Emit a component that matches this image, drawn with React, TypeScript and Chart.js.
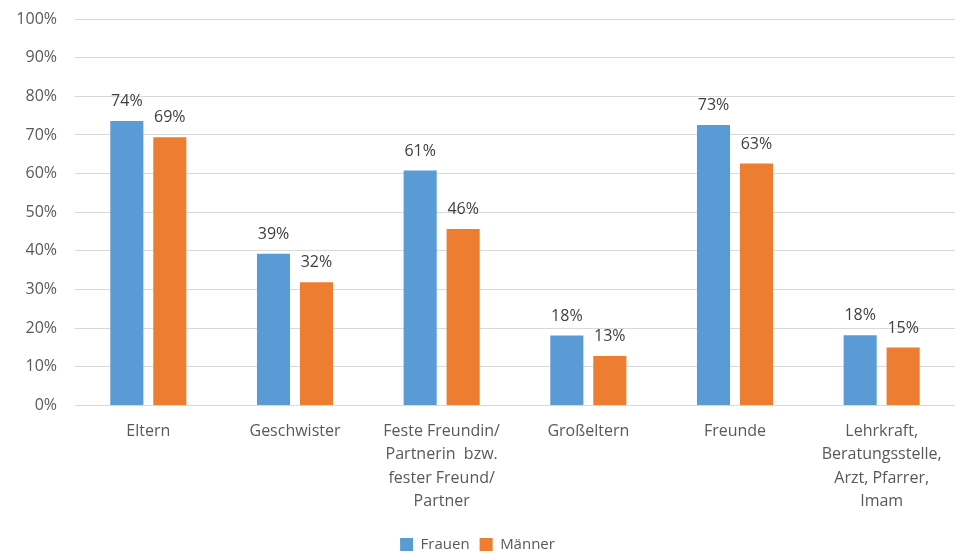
import React, { useEffect, useRef } from "react";
import { Chart, registerables } from "chart.js";

Chart.register(...registerables);

const categories: (string | string[])[] = [
  "Eltern",
  "Geschwister",
  ["Feste Freundin/", "Partnerin  bzw.", "fester Freund/", "Partner"],
  "Großeltern",
  "Freunde",
  ["Lehrkraft,", "Beratungsstelle,", "Arzt, Pfarrer,", "Imam"],
];
const frauen = [73.6, 39.3, 60.8, 18.1, 72.6, 18.2];
const maenner = [69.4, 31.9, 45.7, 12.8, 62.6, 15.0];
const yTicks = [0, 10, 20, 30, 40, 50, 60, 70, 80, 90, 100];

const FONT = "'Open Sans', sans-serif";

const dataLabels = {
  id: "dataLabels",
  afterDatasetsDraw(chart: any) {
    const ctx = chart.ctx;
    ctx.save();
    ctx.font = `16px ${FONT}`;
    ctx.fillStyle = "#404040";
    ctx.textAlign = "center";
    ctx.textBaseline = "alphabetic";
    chart.data.datasets.forEach((ds: any, i: number) => {
      const meta = chart.getDatasetMeta(i);
      meta.data.forEach((bar: any, j: number) => {
        ctx.fillText(Math.round(ds.data[j]) + "%", bar.x, bar.y - 15);
      });
    });
    ctx.restore();
  },
};

export default function App() {
  const ref = useRef<HTMLCanvasElement>(null);
  useEffect(() => {
    document.body.style.margin = "0";
    const chart = new Chart(ref.current!, {
      type: "bar",
      data: {
        labels: categories,
        datasets: [
          { label: "Frauen", data: frauen, backgroundColor: "#5B9BD5" },
          { label: "Männer", data: maenner, backgroundColor: "#ED7D31" },
        ],
      },
      options: {
        animation: false,
        responsive: false,
        maintainAspectRatio: false,
        layout: { padding: { top: 19, right: 5, left: 0, bottom: 0 } },
        datasets: { bar: { categoryPercentage: 0.586, barPercentage: 0.77 } },
        plugins: {
          tooltip: { enabled: false },
          legend: {
            position: "bottom",
            labels: {
              boxWidth: 13,
              boxHeight: 13,
              padding: 10,
              color: "#595959",
              font: { family: FONT, size: 15 },
            },
          },
        },
        scales: {
          x: {
            grid: { display: false, drawTicks: false },
            border: { display: false },
            ticks: {
              color: "#595959",
              font: { family: FONT, size: 16, lineHeight: 1.46 },
              padding: 14,
              maxRotation: 0,
              autoSkip: false,
            },
          },
          y: {
            min: 0,
            max: 100,
            afterFit(scale: any) {
              scale.width = 75;
              scale.paddingTop = 0;
              scale.paddingBottom = 0;
            },
            afterBuildTicks(scale: any) {
              scale.ticks = yTicks.map((v) => ({ value: v }));
            },
            grid: { color: "#d9d9d9", lineWidth: 1, drawTicks: false },
            border: { display: false },
            ticks: {
              color: "#595959",
              font: { family: FONT, size: 16 },
              padding: 18,
              callback: (v: any) => v + "%",
            },
          },
        },
      },
      plugins: [dataLabels],
    });
    return () => chart.destroy();
  }, []);
  return (
    <div style={{ position: "absolute", left: 0, top: 0, width: 960, height: 554, overflow: "hidden" }}>
      <canvas ref={ref} width={960} height={562} />
    </div>
  );
}
